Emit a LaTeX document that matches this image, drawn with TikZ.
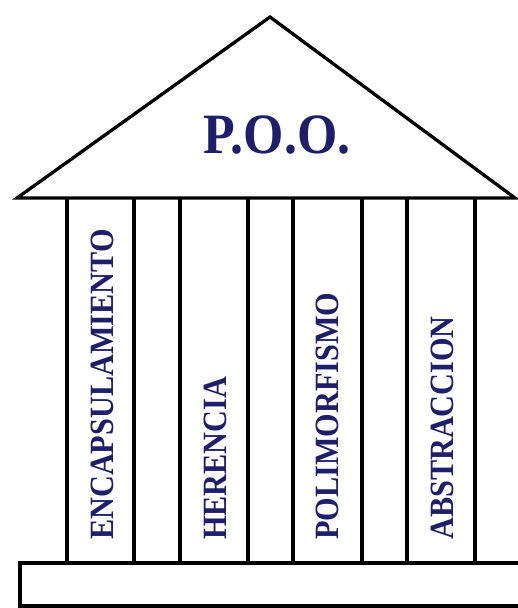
\documentclass[tikz,border=0pt]{standalone}
\usepackage{fontspec}
\setmainfont{Liberation Serif}[BoldFont={Liberation Serif Bold}]
\definecolor{navy}{RGB}{30,30,105}
\tikzset{
  edge/.style={draw=black, line width=3.3pt, line join=miter},
  pillartext/.style={rotate=90, anchor=west, inner sep=0pt, text=navy,
    font=\fontsize{34}{34}\selectfont\bfseries},
  titletext/.style={inner sep=0pt, text=navy, anchor=base,
    font=\fontsize{57}{57}\selectfont\bfseries}
}
\begin{document}
\begin{tikzpicture}[x=1pt,y=-1pt]
\useasboundingbox (0,0) rectangle (518,608);
\clip (0,0) rectangle (518,608);
% roof
\coordinate (L) at (17,198);
\coordinate (A) at (270,17);
\coordinate (R) at (515,198);
\draw[edge] (L) -- (A) -- (R) -- cycle;
% pillars
\foreach \xa/\xb in {67/134,180/248,293/362,407/475}{
  \draw[edge] (\xa,198) -- (\xa,563);
  \draw[edge] (\xb,198) -- (\xb,563);
}
% base
\draw[edge] (20,563) rectangle (540,606);
% texts
\node[titletext] (poo) at (277,153) {\scalebox{0.91}[1]{P.O.O.}};
\node[pillartext] (enc) at (102,540) {\scalebox{0.89}[1]{ENCAPSULAMIENTO}};
\node[pillartext] (her) at (215,540) {\scalebox{0.89}[1]{HERENCIA}};
\node[pillartext] (pol) at (327,540) {\scalebox{0.89}[1]{POLIMORFISMO}};
\node[pillartext] (abs) at (442,540) {\scalebox{0.89}[1]{ABSTRACCION}};
\end{tikzpicture}
\end{document}
